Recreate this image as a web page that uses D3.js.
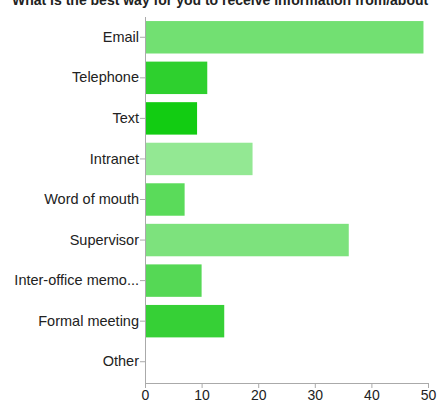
<!DOCTYPE html>
<html>
<head>
<meta charset="utf-8">
<script src="https://cdn.jsdelivr.net/npm/d3@7"></script>
<style>
  body { margin: 0; background: #fff; }
  text { font-family: "Liberation Sans", Arial, sans-serif; }
</style>
</head>
<body>
<div id="chart"></div>
<script>
const categories = ["Email", "Telephone", "Text", "Intranet", "Word of mouth", "Supervisor", "Inter-office memo...", "Formal meeting", "Other"];
const counts = [49.2, 11, 9.2, 19, 7, 36, 10, 14, 0];
const barColors = ["#72e072", "#2ed02e", "#12cc12", "#93e893", "#5adb5a", "#7de27d", "#55d855", "#36d036", "#36d036"];
const xTicks = [0, 10, 20, 30, 40, 50];
const title = "What is the best way for you to receive information from/about";

const W = 438, H = 404;
const margins = {top: 17, bottom: 21, left: 145, right: 10};

const svg = d3.select('#chart').append('svg').attr('width', W).attr('height', H);

svg.append('text')
    .attr('x', 12)
    .attr('y', 5)
    .style('font-size', '14px')
    .style('font-weight', 'bold')
    .attr('fill', '#222')
    .text(title);

const x = d3.scaleLinear().domain([0, 50]).range([margins.left, 428]);
const y = d3.scaleBand().domain(categories).range([margins.top, 382]).paddingInner(0.2).paddingOuter(0.1);

svg.selectAll('.bar')
    .data(categories)
    .enter()
    .append('rect')
    .attr('class', 'bar')
    .attr('x', x(0))
    .attr('y', d => y(d))
    .attr('width', (d, i) => x(counts[i]) - x(0))
    .attr('height', y.bandwidth())
    .attr('fill', (d, i) => barColors[i]);

// y axis
const yAxis = svg.append('g')
    .attr('transform', `translate(${margins.left}, 0)`)
    .call(d3.axisLeft(y).tickSize(5).tickSizeOuter(0));
yAxis.select('.domain').attr('stroke', '#aaa').attr('d', `M0.5,${margins.top}V383`);
yAxis.selectAll('.tick line').attr('stroke', '#aaa');
yAxis.selectAll('.tick text').attr('x', -6).style('font-size', '14.5px').attr('fill', '#222');

// x axis
const xAxis = svg.append('g')
    .attr('transform', `translate(0, 383)`)
    .call(d3.axisBottom(x).tickValues(xTicks).tickSize(5).tickSizeOuter(0));
xAxis.select('.domain').attr('stroke', '#aaa');
xAxis.selectAll('.tick line').attr('stroke', '#aaa');
xAxis.selectAll('.tick text').attr('y', 7).style('font-size', '14px').attr('fill', '#222');
</script>
</body>
</html>
